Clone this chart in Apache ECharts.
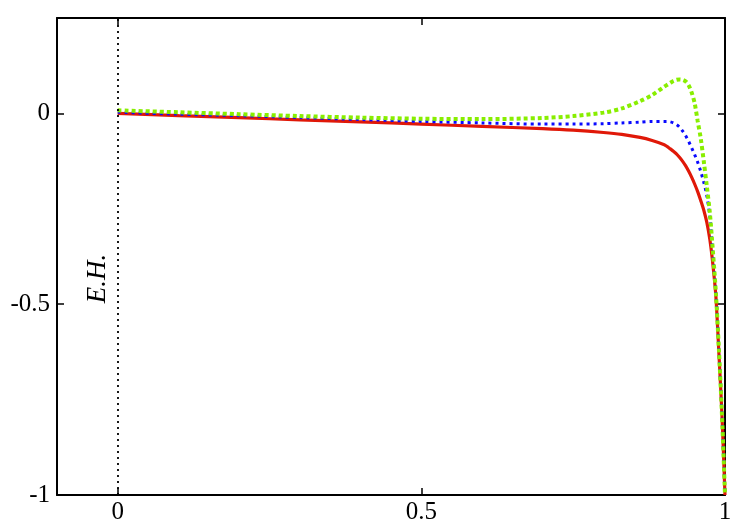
<!DOCTYPE html>
<html><head><meta charset="utf-8">
<script src="https://cdn.jsdelivr.net/npm/echarts@6/dist/echarts.min.js"></script>
<style>html,body{margin:0;padding:0;background:#fff}#c{width:750px;height:525px}</style>
</head><body><div id="c"></div>
<script>
const xs = [0,0.1,0.2,0.3,0.4,0.5,0.6,0.7,0.75,0.8,0.83,0.86,0.88,0.9,0.905,0.91,0.915,0.92,0.925,0.93,0.935,0.94,0.945,0.95,0.955,0.96,0.965,0.97,0.975,0.98,0.985,0.99,0.995,1];
const red = [0,-0.006,-0.011,-0.017,-0.022,-0.028,-0.034,-0.040,-0.044,-0.05,-0.055,-0.063,-0.071,-0.082,-0.087,-0.093,-0.099,-0.106,-0.115,-0.125,-0.137,-0.151,-0.167,-0.185,-0.205,-0.228,-0.253,-0.285,-0.33,-0.395,-0.48,-0.63,-0.79,-1];
const blue = [0.003,-0.002,-0.006,-0.011,-0.016,-0.021,-0.025,-0.028,-0.028,-0.027,-0.025,-0.023,-0.021,-0.021,-0.021,-0.022,-0.025,-0.029,-0.036,-0.046,-0.058,-0.073,-0.09,-0.108,-0.128,-0.152,-0.18,-0.215,-0.27,-0.37,-0.47,-0.62,-0.79,-1];
const green = [0.008,0.003,-0.002,-0.007,-0.011,-0.014,-0.015,-0.012,-0.007,0.002,0.013,0.032,0.048,0.07,0.075,0.08,0.085,0.088,0.089,0.088,0.084,0.074,0.055,0.027,-0.02,-0.065,-0.125,-0.19,-0.26,-0.36,-0.47,-0.62,-0.79,-1];
const xTicks = [0,0.5,1];
const yTicks = [-1,-0.5,0];
const ehX = 0;
const ehLabel = 'E.H.';

const font = 'Liberation Serif';
const pair = a => xs.map((x,i)=>[x,a[i]]);
const chart = echarts.init(document.getElementById('c'));
const line = {show:true,onZero:false,lineStyle:{color:'#000',width:2}};
const tick = v => ({show:true,inside:true,length:7,customValues:v,lineStyle:{color:'#000',width:1.5}});
chart.setOption({
  animation:false,
  grid:{left:57,right:25,top:18,bottom:30,containLabel:false},
  xAxis:[
    {type:'value',min:-0.1,max:1,position:'bottom',axisLine:line,
      axisLabel:{show:true,customValues:xTicks,fontFamily:font,fontSize:25,color:'#000',margin:5},
      axisTick:tick(xTicks),splitLine:{show:false}},
    {type:'value',min:-0.1,max:1,position:'top',axisLine:line,
      axisLabel:{show:false},axisTick:tick(xTicks),splitLine:{show:false}}
  ],
  yAxis:[
    {type:'value',min:-1,max:0.25,position:'left',axisLine:line,
      axisLabel:{show:true,customValues:yTicks,fontFamily:font,fontSize:25,color:'#000',margin:7},
      axisTick:tick(yTicks),splitLine:{show:false}},
    {type:'value',min:-1,max:0.25,position:'right',axisLine:line,
      axisLabel:{show:false},axisTick:tick(yTicks),splitLine:{show:false}}
  ],
  series:[
    {type:'line',data:pair(red),smooth:0.3,showSymbol:false,lineStyle:{color:'#e01808',width:3.2},z:2,
      markLine:{silent:true,symbol:['none','none'],
        lineStyle:{color:'#000',type:[2,4],width:1.8},
        label:{show:true,formatter:ehLabel,position:'insideMiddleTop',fontFamily:font,fontStyle:'italic',fontSize:27,color:'#000',distance:6,padding:[0,44,0,0]},
        data:[{xAxis:ehX}]}},
    {type:'line',data:pair(blue),smooth:0.3,showSymbol:false,lineStyle:{color:'#0a0aff',width:3,type:[3,4]},z:3},
    {type:'line',data:pair(green),smooth:0.3,showSymbol:false,lineStyle:{color:'#88ee00',width:4,type:[4,3]},z:4}
  ]
});
</script></body></html>
